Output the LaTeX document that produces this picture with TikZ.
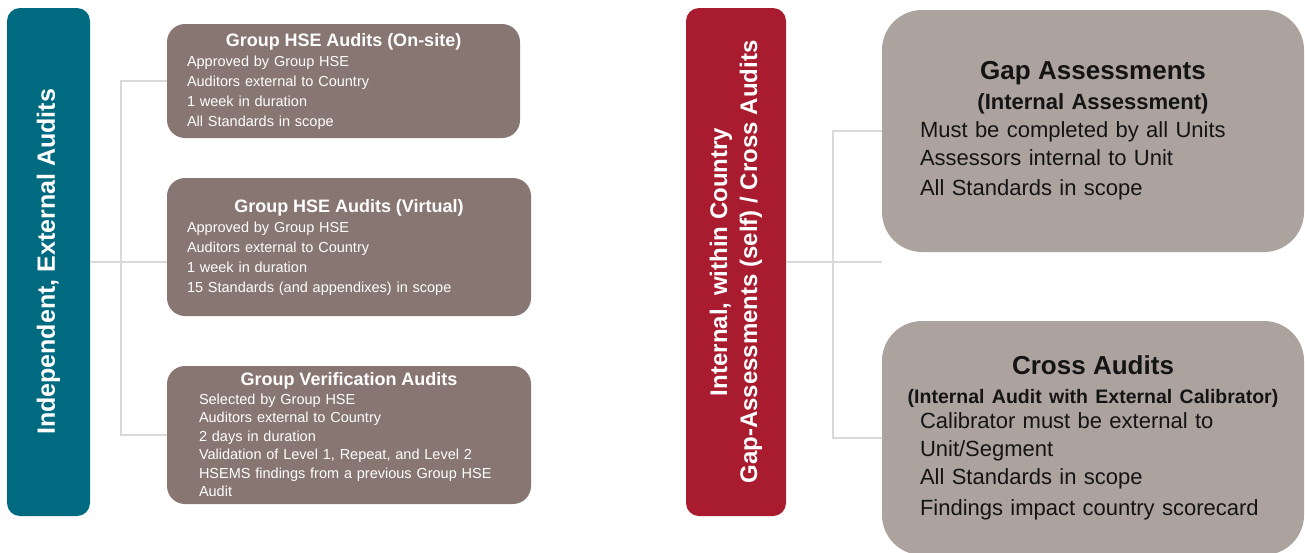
\documentclass[tikz,border=0pt]{standalone}
\usepackage{fontspec}
\setmainfont{Liberation Sans}
\usetikzlibrary{positioning}

\begin{document}
\begin{tikzpicture}[x=1pt,y=-1pt,
    bar/.style={rotate=90, rounded corners=13pt, text=white, align=center,
        font=\bfseries\fontsize{24}{30}\selectfont, minimum width=508pt, inner sep=0pt},
    auditbox/.style={fill=boxBrown, rounded corners=18pt, text=white, align=left,
        font=\fontsize{14.5}{20}\selectfont, inner xsep=20pt, inner ysep=0pt, minimum height=138pt},
    gapbox/.style={fill=boxGrey, rounded corners=40pt, text=textDark, align=left,
        font=\fontsize{22}{28}\selectfont, inner xsep=38pt, inner ysep=0pt, text width=346pt},
    link/.style={draw=linkGrey, line width=1.3pt}]
    % 颜色
    \definecolor{barTeal}{RGB}{0,106,128}     % 左侧竖条
    \definecolor{barRed}{RGB}{169,28,47}      % 右侧竖条
    \definecolor{boxBrown}{RGB}{135,118,113}  % 左侧方框
    \definecolor{boxGrey}{RGB}{172,163,159}   % 右侧方框
    \definecolor{textDark}{RGB}{20,20,20}
    \definecolor{linkGrey}{RGB}{217,217,217}

    \useasboundingbox (0,0) rectangle (1305,552);

    % 竖条
    \node[bar, fill=barTeal, minimum height=83pt] (ext) at (48.5,262)
        {\fontsize{25}{30}\selectfont Independent, External Audits};
    \node[bar, fill=barRed, minimum height=100pt] (int) at (736,262)
        {Internal, within Country\\Gap-Assessments (self) / Cross Audits};

    % 左侧方框
    \node[auditbox, text width=313pt, minimum height=114pt] (gha1) at (343.5,81)
        {\makebox[\linewidth]{\bfseries\fontsize{18}{20}\selectfont Group HSE Audits (On-site)}\\
         Approved by Group HSE\\Auditors external to Country\\1 week in duration\\All Standards in scope};
    \node[auditbox, text width=324pt] (gha2) at (349,247)
        {\makebox[\linewidth]{\bfseries\fontsize{18}{20}\selectfont Group HSE Audits (Virtual)}\\
         Approved by Group HSE\\Auditors external to Country\\1 week in duration\\15 Standards (and appendixes) in scope};
    \node[auditbox, text width=300pt, inner xsep=32pt, font=\fontsize{14.5}{18.5}\selectfont] (gva) at (349,435)
        {\makebox[\linewidth]{\bfseries\fontsize{18}{20}\selectfont Group Verification Audits}\\
         Selected by Group HSE\\Auditors external to Country\\2 days in duration\\
         Validation of Level 1, Repeat, and Level 2\\HSEMS findings from a previous Group HSE\\Audit};

    % 右侧方框
    \node[gapbox, minimum height=242pt] (gap) at (1093,131)
        {\makebox[\linewidth]{\bfseries\fontsize{26}{28}\selectfont Gap Assessments}\\[2pt]
         \makebox[\linewidth]{\bfseries\fontsize{22}{28}\selectfont (Internal Assessment)}\\
         Must be completed by all Units\\Assessors internal to Unit\\[2pt]All Standards in scope};
    \node[gapbox, minimum height=234pt] (cross) at (1093,438)
        {\makebox[\linewidth]{\bfseries\fontsize{26}{28}\selectfont Cross Audits}\\[1pt]
         \makebox[\linewidth]{\bfseries\fontsize{19.5}{28}\selectfont (Internal Audit with External Calibrator)}\\[-3pt]
         Calibrator must be external to\\Unit/Segment\\All Standards in scope\\[3pt]Findings impact country scorecard};

    % 连接线
    \coordinate (lspine) at (121,262);
    \coordinate (rspine) at (833,262);
    \draw[link] (gha1.west) -| (lspine) |- (gva.west);
    \draw[link] (ext.south) -- (ext.south -| gha2.west);
    \draw[link] (gap.west) -| (rspine) |- (cross.west);
    \draw[link] (int.south) -- (int.south -| gap.west);
\end{tikzpicture}
\end{document}
